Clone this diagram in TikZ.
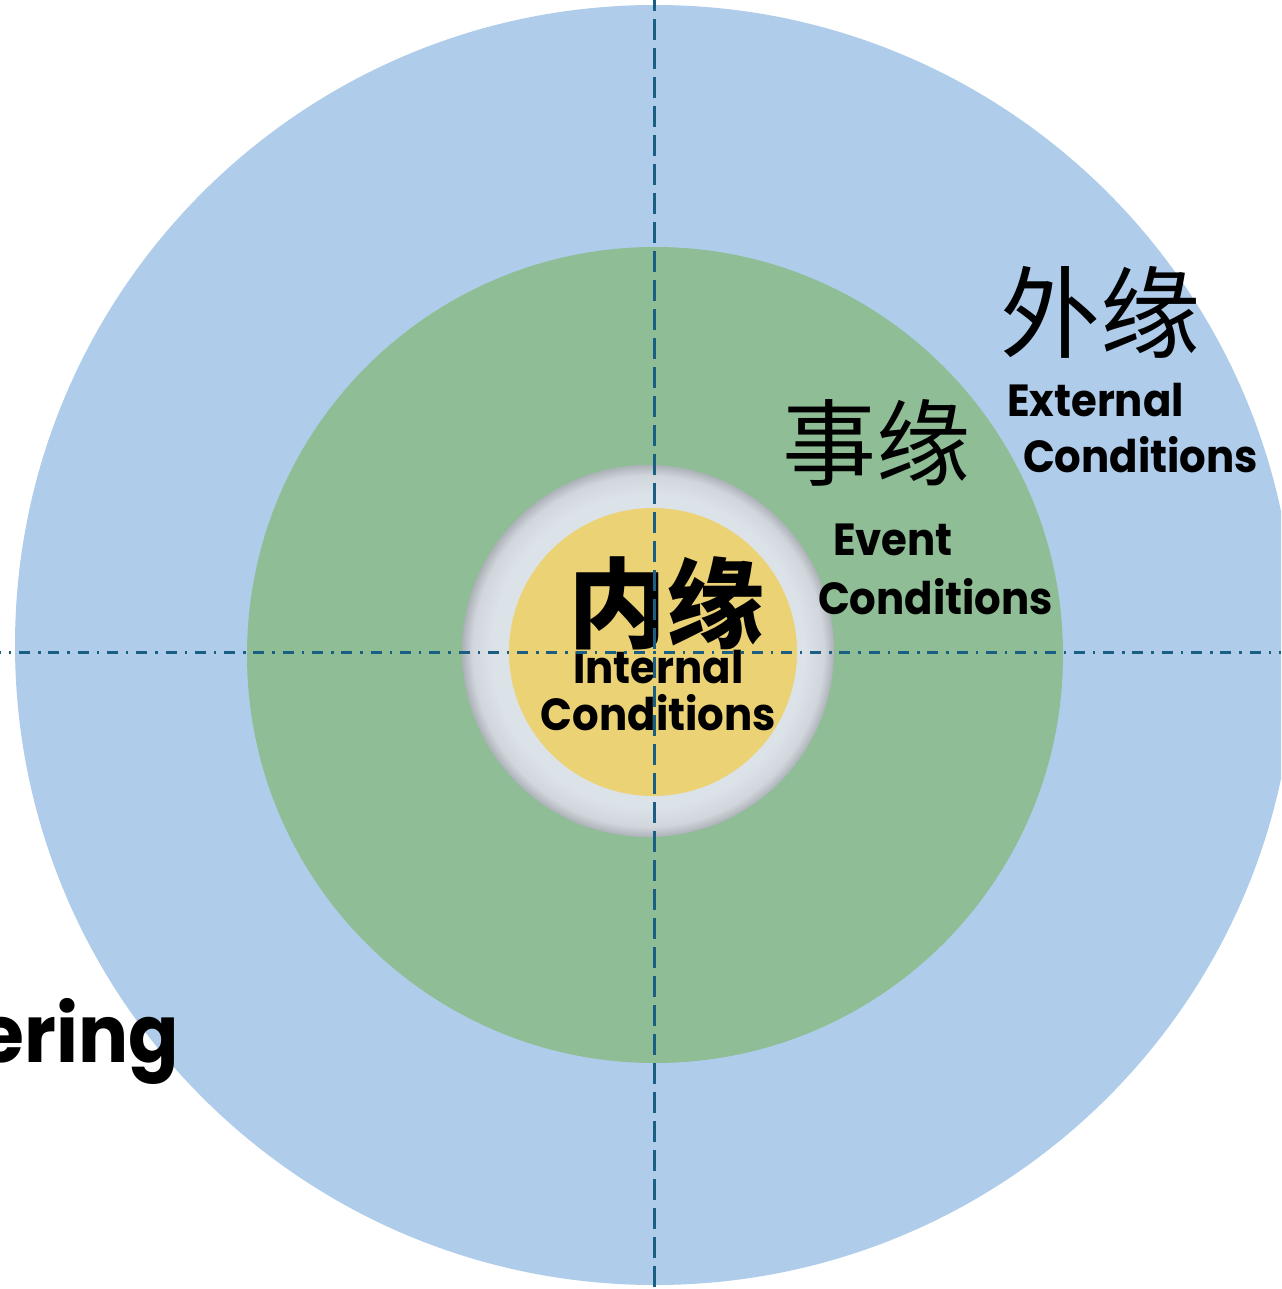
\documentclass[tikz,border=0pt]{standalone}
\usepackage{fontspec}
\setmainfont{Poppins}[FakeStretch=0.93]
\newfontfamily\cjk{Noto Sans CJK SC}
\definecolor{outerblue}{HTML}{AFCDEA}
\definecolor{midgreen}{HTML}{8FBD96}
\definecolor{coreyellow}{HTML}{EBD275}
\definecolor{ringlt}{HTML}{DCE3E8}
\definecolor{ringmd}{HTML}{D0D6DB}
\definecolor{ringdk}{HTML}{ADB2B8}
\definecolor{axisblue}{HTML}{1B5E84}
\pgfdeclareradialshading{ringshade}{\pgfpoint{0bp}{0bp}}{color(0bp)=(ringlt); color(21bp)=(ringlt); color(23.6bp)=(ringmd); color(25bp)=(ringdk); color(50bp)=(ringdk)}
\tikzset{
  lbl/.style={inner sep=0pt, outer sep=0pt, font=\bfseries\fontsize{45}{54}\selectfont, anchor=base west},
  cjklbl/.style={inner sep=0pt, outer sep=0pt, anchor=base west},
  vaxis/.style={draw=axisblue, line width=3pt, dash pattern=on 21pt off 8pt, dash phase=10pt},
  haxis/.style={draw=axisblue, line width=3pt, dash pattern=on 11pt off 8pt on 2.5pt off 7.8pt, dash phase=10.3pt}
}
\begin{document}
\begin{tikzpicture}[x=1pt,y=-1pt]
\useasboundingbox (0,0) rectangle (1281,1289);
\clip (0,0) rectangle (1281,1289);
\fill[outerblue] (655,645) circle (640);
\fill[midgreen] (655,655) circle (408);
\shade[shading=ringshade] (648,651) circle (186);
\fill[coreyellow] (653,652) circle (144);

\node[cjklbl, font=\cjk\fontsize{100}{110}\selectfont] (wai) at (1000,350) {外缘};
\node[lbl] (ext1) at (1007,416) {External};
\node[lbl] (ext2) at (1023,472) {Conditions};

\node[cjklbl, font=\cjk\fontsize{94}{100}\selectfont] (shi) at (782,478) {事缘};
\node[lbl] (evt1) at (833,555) {Event};
\node[lbl] (evt2) at (818,614) {Conditions};

\node[cjklbl, font=\cjk\bfseries\fontsize{98}{108}\selectfont] (nei) at (568,640) {内缘};
\node[lbl, anchor=base] (int1) at (658.5,683) {Internal};
\node[lbl, anchor=base] (int2) at (658.5,730) {Conditions};

\node[lbl, anchor=base east, font=\bfseries\fontsize{80}{90}\selectfont] (ering) at (179,1062) {ering};

\coordinate (vtop) at (654,0);
\coordinate (vbot) at (654,1289);
\coordinate (hl) at (0,652);
\coordinate (hr) at (1281,652);
\draw[vaxis] (vtop) -- (vbot);
\draw[haxis] (hl) -- (hr);
\end{tikzpicture}
\end{document}
